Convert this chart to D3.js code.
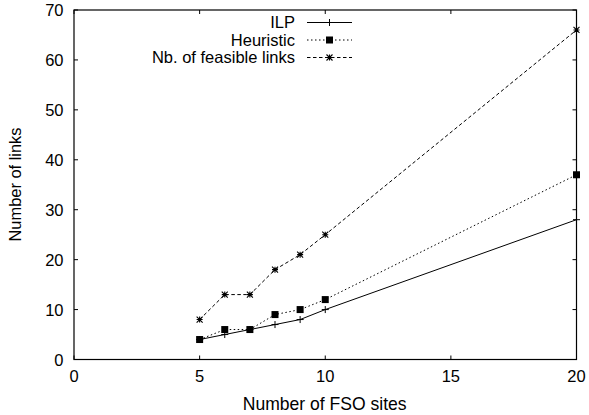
<!DOCTYPE html>
<html><head><meta charset="utf-8">
<script src="https://cdn.jsdelivr.net/npm/d3@7"></script>
<style>
html,body{margin:0;padding:0;background:#fff;}
text{font-family:"Liberation Sans",Arial,Helvetica,sans-serif;}
</style></head>
<body>
<svg id="chart" width="589" height="415"></svg>
<script>
const xValues = [5, 6, 7, 8, 9, 10, 20];
const ilp = [4, 5, 6, 7, 8, 10, 28];
const heuristic = [4, 6, 6, 9, 10, 12, 37];
const feasible = [8, 13, 13, 18, 21, 25, 66];
const seriesNames = ["ILP", "Heuristic", "Nb. of feasible links"];
const xTicks = [0, 5, 10, 15, 20];
const yTicks = [0, 10, 20, 30, 40, 50, 60, 70];

const svg = d3.select("#chart");
const L = 74, R = 576.5, T = 10, B = 359.5;
const x = d3.scaleLinear().domain([0, 20]).range([L, R]);
const y = d3.scaleLinear().domain([0, 70]).range([B, T]);
const fs = 16.5;

function fit(sel, target) {
  const w = sel.node().getComputedTextLength();
  const f = parseFloat(sel.attr("font-size"));
  sel.attr("font-size", f * target / w);
  return sel;
}

svg.append("rect").attr("x", L).attr("y", T).attr("width", R - L).attr("height", B - T)
  .attr("fill", "none").attr("stroke", "#000").attr("stroke-width", 1.2);

const tl = 4;
xTicks.forEach(v => {
  svg.append("line").attr("x1", x(v)).attr("x2", x(v)).attr("y1", B).attr("y2", B - tl).attr("stroke", "#000");
  svg.append("line").attr("x1", x(v)).attr("x2", x(v)).attr("y1", T).attr("y2", T + tl).attr("stroke", "#000");
  svg.append("text").attr("x", x(v)).attr("y", B + 22.5).attr("text-anchor", "middle")
    .attr("font-size", fs).text(v);
});
yTicks.forEach(v => {
  svg.append("line").attr("x1", L).attr("x2", L + tl).attr("y1", y(v)).attr("y2", y(v)).attr("stroke", "#000");
  svg.append("line").attr("x1", R).attr("x2", R - tl).attr("y1", y(v)).attr("y2", y(v)).attr("stroke", "#000");
  svg.append("text").attr("x", L - 10.5).attr("y", y(v) + 6).attr("text-anchor", "end")
    .attr("font-size", fs).text(v);
});

const xt = svg.append("text").attr("x", 324.7).attr("y", 410).attr("text-anchor", "middle")
  .attr("font-size", fs).text("Number of FSO sites");
fit(xt, 164);
const yt = svg.append("text").attr("transform", `translate(21,184.5) rotate(-90)`)
  .attr("text-anchor", "middle").attr("font-size", fs).text("Number of links");
fit(yt, 114);

const series = [
  {name: seriesNames[0], vals: ilp, dash: null, marker: "plus"},
  {name: seriesNames[1], vals: heuristic, dash: "1.5,2.5", marker: "square"},
  {name: seriesNames[2], vals: feasible, dash: "3.5,2.5", marker: "star"}
];

function drawMarker(g, type, cx, cy) {
  if (type === "plus") {
    g.append("path").attr("d", `M${cx-3.5},${cy}H${cx+3.5}M${cx},${cy-3.5}V${cy+3.5}`)
      .attr("stroke", "#000").attr("stroke-width", 1);
  } else if (type === "square") {
    g.append("rect").attr("x", cx - 3.5).attr("y", cy - 3.5).attr("width", 7).attr("height", 7).attr("fill", "#000");
  } else {
    const s = 3;
    g.append("path").attr("d",
      `M${cx-s},${cy}H${cx+s}M${cx},${cy-s}V${cy+s}M${cx-s},${cy-s}L${cx+s},${cy+s}M${cx-s},${cy+s}L${cx+s},${cy-s}`)
      .attr("stroke", "#000").attr("stroke-width", 1.1);
  }
}

const line = d3.line().x((d, i) => x(xValues[i])).y(d => y(d));
series.forEach((s, k) => {
  const g = svg.append("g");
  g.append("path").attr("d", line(s.vals)).attr("fill", "none").attr("stroke", "#000")
    .attr("stroke-width", 1).attr("stroke-dasharray", s.dash);
  s.vals.forEach((v, i) => drawMarker(g, s.marker, x(xValues[i]), y(v)));
  const ly = 22.5 + k * 17.5;
  svg.append("text").attr("class", "leg").attr("x", 295).attr("y", ly + 5.5).attr("text-anchor", "end")
    .attr("font-size", fs).text(s.name);
  svg.append("line").attr("x1", 307).attr("x2", 352).attr("y1", ly).attr("y2", ly)
    .attr("stroke", "#000").attr("stroke-width", 1).attr("stroke-dasharray", s.dash);
  drawMarker(svg, s.marker, 329.5, ly);
});
const legTexts = svg.selectAll("text.leg");
const longest = legTexts.filter(function(){ return d3.select(this).text() === seriesNames[2]; });
const lf = Math.min(16.5, fs * 144 / longest.node().getComputedTextLength());
legTexts.attr("font-size", lf);
</script>
</body></html>
